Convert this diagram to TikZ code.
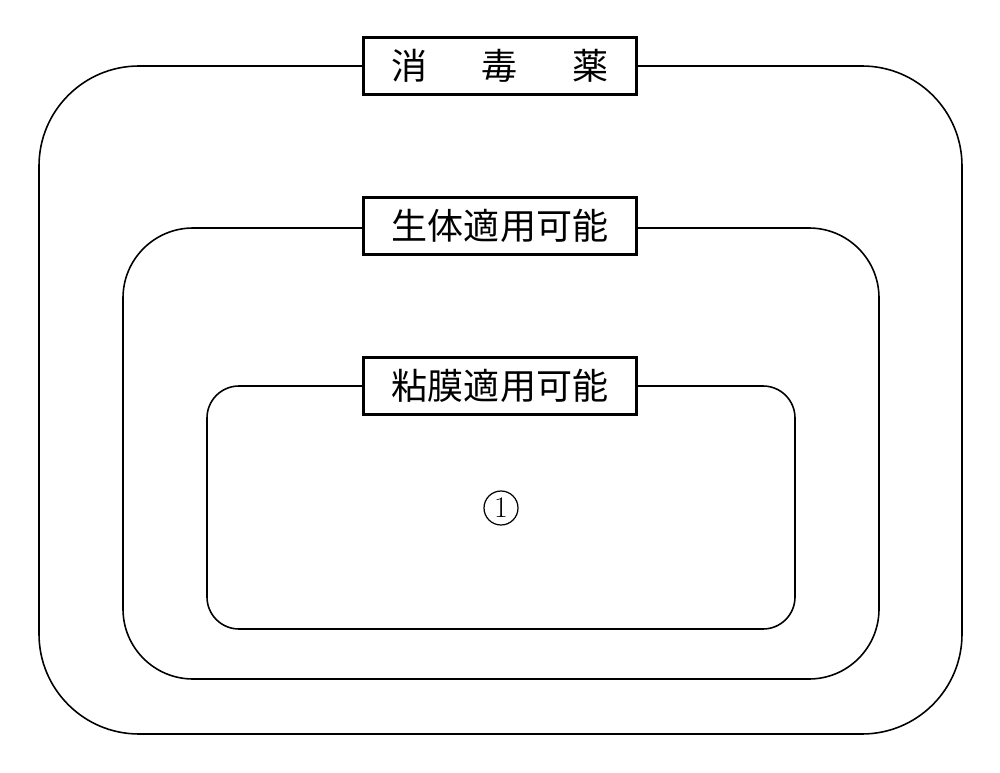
\documentclass[tikz,border=0pt]{standalone}
\usepackage{fontspec}
\newfontfamily\jpfont{Noto Sans CJK JP}
\usetikzlibrary{positioning}

\begin{document}
\begin{tikzpicture}[x=0.02cm, y=-0.02cm,
        frame/.style={line width=0.9pt},
        labelbox/.style={draw, line width=1.2pt, fill=white, minimum width=5.46cm, minimum height=1.14cm, inner sep=0pt, font=\jpfont\fontsize{20.5pt}{24pt}\selectfont}]
        % Page size
        \useasboundingbox (0,0) rectangle (1000,773);
        % Outer frame
        \draw[frame, rounded corners=2cm] (39,66) rectangle (962,734);
        % Middle frame
        \draw[frame, rounded corners=1.4cm] (123,228) rectangle (879,679);
        % Inner frame
        \draw[frame, rounded corners=0.64cm] (207,386) rectangle (795,629);
        % Labels on the frames
        \node[labelbox] (disinfectant) at (500,66) {消\hspace{1.5em}毒\hspace{1.5em}薬};
        \node[labelbox] (bodyuse) at (500,226) {生体適用可能};
        \node[labelbox] (mucosa) at (500,386) {粘膜適用可能};
        % Circled one
        \node[draw, circle, line width=0.7pt, minimum size=0.68cm, inner sep=0pt, font=\fontsize{17pt}{20pt}\selectfont] (itemone) at (501,508) {1};
    \end{tikzpicture}
\end{document}
